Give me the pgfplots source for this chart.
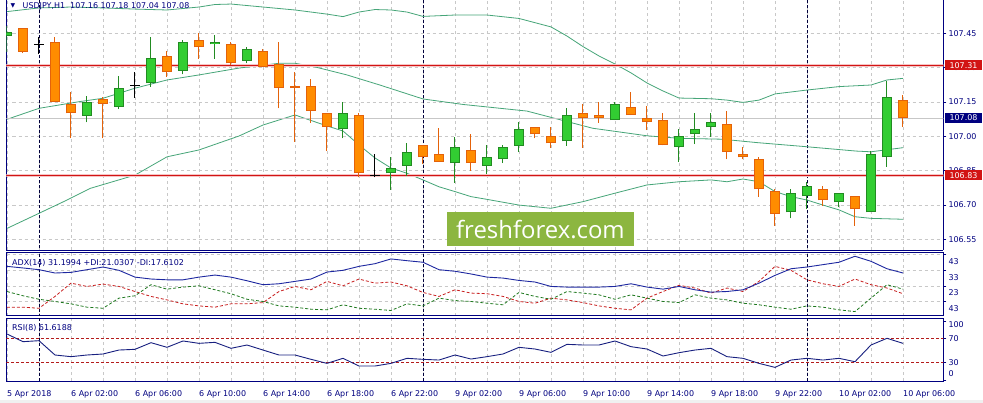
\documentclass[border=0pt]{standalone}
\usepackage{pgfplots}
\pgfplotsset{compat=1.18}
\usepackage{pgfplotstable}
\usepackage{fontspec}
\setmainfont{DejaVu Sans}
\newfontfamily\wmfont{Open Sans}

\definecolor{bullFill}{RGB}{50,205,50}
\definecolor{bullEdge}{RGB}{34,139,34}
\definecolor{bearFill}{RGB}{255,140,0}
\definecolor{bearEdge}{RGB}{228,98,10}
\definecolor{bbColor}{RGB}{70,165,120}
\definecolor{lineRed}{RGB}{210,20,20}
\definecolor{glowRed}{RGB}{246,196,196}
\definecolor{navyT}{RGB}{0,0,128}
\definecolor{sepC}{RGB}{0,0,60}
\definecolor{gridG}{RGB}{200,200,200}
\definecolor{adxBlue}{RGB}{30,40,160}
\definecolor{diRed}{RGB}{200,30,30}
\definecolor{diGreen}{RGB}{30,120,30}
\definecolor{wmG}{RGB}{140,182,64}

% candles: index, open, high, low, close
\pgfplotstableread{
i O H L C
0 107.440 107.482 107.368 107.457
5 107.090 107.177 107.061 107.148
7 107.129 107.263 107.119 107.210
9 107.231 107.435 107.217 107.341
11 107.287 107.421 107.271 107.411
13 107.402 107.443 107.338 107.411
15 107.330 107.392 107.319 107.381
21 107.030 107.151 106.991 107.100
24 106.838 106.910 106.765 106.860
25 106.870 106.972 106.826 106.930
28 106.882 106.995 106.797 106.953
30 106.870 106.962 106.835 106.908
31 106.899 106.962 106.882 106.952
32 106.959 107.064 106.930 107.030
35 106.978 107.122 106.959 107.092
38 107.070 107.148 107.070 107.140
42 106.952 107.030 106.889 107.000
43 107.008 107.100 106.966 107.030
44 107.039 107.100 106.998 107.061
49 106.667 106.768 106.641 106.751
50 106.737 106.801 106.682 106.781
52 106.711 106.751 106.689 106.751
54 106.667 106.937 106.667 106.921
55 106.908 107.242 106.867 107.170
}\bull

\pgfplotstableread{
i O H L C
1 107.472 107.472 107.363 107.370
3 107.411 107.433 107.148 107.148
4 107.140 107.192 106.991 107.100
6 107.163 107.170 106.991 107.140
10 107.351 107.373 107.260 107.280
12 107.420 107.453 107.338 107.389
14 107.403 107.411 107.312 107.319
16 107.373 107.380 107.301 107.301
17 107.315 107.413 107.122 107.210
18 107.218 107.282 106.976 107.210
19 107.218 107.250 107.059 107.110
20 107.100 107.100 106.937 107.039
22 107.092 107.100 106.820 106.838
26 106.962 106.962 106.879 106.908
27 106.922 107.035 106.889 106.889
29 106.939 107.010 106.849 106.882
33 107.039 107.039 106.991 107.008
34 107.001 107.039 106.950 106.969
36 107.100 107.141 106.950 107.078
37 107.092 107.148 107.059 107.078
39 107.129 107.192 107.092 107.092
40 107.078 107.132 107.027 107.061
41 107.070 107.100 106.960 106.960
45 107.052 107.110 106.899 106.930
46 106.921 106.952 106.899 106.908
47 106.899 106.908 106.736 106.768
48 106.761 106.768 106.609 106.659
51 106.768 106.782 106.695 106.720
53 106.737 106.737 106.609 106.681
56 107.160 107.180 107.040 107.080
}\bear

\pgfplotstableread{
i O H L C
2 107.402 107.433 107.360 107.402
8 107.220 107.282 107.169 107.220
23 106.830 106.922 106.820 106.830
}\doji

\pgfplotsset{
  mt4/.style={
    anchor=south west, scale only axis, width=936.8bp,
    xmin=-0.031, xmax=58.52,
    axis line style={draw=navyT, line width=0.8bp},
    xtick={0,4,...,56}, minor x tick num=1,
    xmajorgrids, xminorgrids, ymajorgrids,
    grid style={draw=gridG, dash pattern=on 3bp off 3bp, line width=0.6bp},
    minor grid style={draw=gridG, dash pattern=on 3bp off 3bp, line width=0.6bp},
    tick style={draw=navyT, line width=0.6bp},
    major x tick style={draw=none}, minor tick length=0pt,
    ytick pos=right, yticklabel pos=right, tick align=outside, major tick length=3bp,
    ticklabel style={font=\fontsize{8}{9.6}\selectfont, text=navyT, inner sep=0pt},
    /pgf/number format/assume math mode=true,
    yticklabel style={anchor=base west, xshift=2bp, yshift=-3bp},
    clip mode=individual,
  },
  wick/.style={draw=none, mark=none, forget plot,
    error bars/.cd, y dir=plus, y explicit, error mark=none,
    error bar style={line width=1bp, draw=#1}},
  body/.style 2 args={draw=none, mark=none, forget plot,
    error bars/.cd, y dir=plus, y explicit, error mark=none,
    error bar style={line width=#1, draw=#2}},
  sep/.style={draw=sepC, dash pattern=on 3bp off 2bp, line width=0.9bp, forget plot},
}

\begin{document}
\begin{tikzpicture}
\fill[white] (0bp,0bp) rectangle (983bp,403bp);
\fill[black!6] (0bp,0bp) rectangle (983bp,2.5bp);
\path[use as bounding box] (0bp,0bp) rectangle (983bp,403bp);

% ---------------- price window
\begin{axis}[mt4, at={(6.5bp,153bp)}, height=250bp,
  axis x line*=bottom,
  ymin=106.5026, ymax=107.5957,
  ytick={106.55,106.70,106.85,107.00,107.15,107.30,107.45,107.60},
  xticklabels={},
  yticklabel style={/pgf/number format/fixed, /pgf/number format/fixed zerofill,
    /pgf/number format/precision=2}]

% period separators
\addplot[sep] coordinates {(2,106.4) (2,107.7)};
\addplot[sep] coordinates {(26,106.4) (26,107.7)};
\addplot[sep] coordinates {(50,106.4) (50,107.7)};

% bollinger bands
\addplot[bbColor, line width=0.8bp] coordinates {(0,107.545)(2,107.561)(4,107.565)(6,107.561)(8,107.556)(10,107.552)(12,107.565)(13,107.576)(14,107.578)(16,107.565)(18,107.552)(20,107.534)(21,107.523)(22,107.543)(23,107.554)(24,107.552)(25,107.543)(26,107.524)(28,107.530)(30,107.530)(32,107.515)(34,107.478)(35,107.438)(36,107.392)(37,107.351)(38,107.316)(39,107.277)(40,107.233)(41,107.198)(42,107.167)(44,107.164)(45,107.158)(46,107.148)(47,107.158)(48,107.185)(50,107.202)(52,107.217)(54,107.224)(55,107.246)(56,107.253)};
\addplot[bbColor, line width=0.8bp] coordinates {(0,107.074)(2,107.122)(4.5,107.151)(6,107.166)(8,107.210)(10,107.246)(12,107.268)(14.5,107.298)(17,107.319)(18,107.319)(19.2,107.304)(21.25,107.268)(23.3,107.224)(26,107.163)(28.5,107.139)(32.5,107.110)(36.6,107.035)(40,107.002)(42,106.991)(44.7,106.987)(46.9,106.972)(50,106.954)(53.1,106.935)(54,106.932)(56,106.950)};
\addplot[bbColor, line width=0.8bp] coordinates {(0,106.597)(2,106.663)(3.75,106.721)(5.2,106.772)(8,106.830)(10,106.910)(12,106.940)(14.5,107.001)(16,107.049)(18,107.093)(20,107.045)(21,107.023)(22,106.962)(23,106.905)(24,106.861)(25,106.838)(26,106.809)(27,106.779)(28,106.758)(29,106.736)(30,106.724)(32,106.699)(34,106.685)(36,106.714)(38,106.751)(40,106.787)(42,106.801)(44,106.809)(45,106.801)(46,106.813)(47,106.801)(48,106.758)(49,106.736)(50,106.721)(51,106.699)(52,106.678)(53,106.648)(54,106.641)(56,106.637)};

% levels and bid line
\addplot[draw=glowRed, line width=3bp, forget plot] coordinates {(-1,107.31) (60,107.31)};
\addplot[draw=glowRed, line width=3bp, forget plot] coordinates {(-1,106.83) (60,106.83)};
\addplot[color=lineRed, line width=1bp, forget plot] coordinates {(-1,107.31) (60,107.31)};
\addplot[color=lineRed, line width=1bp, forget plot] coordinates {(-1,106.83) (60,106.83)};
\addplot[draw=black!22, line width=0.8bp, forget plot] coordinates {(-1,107.08) (60,107.08)};

% wicks
\addplot[wick=bullEdge] table[x=i, y=L, y error plus expr=\thisrow{H}-\thisrow{L}] {\bull};
\addplot[wick=bearEdge] table[x=i, y=L, y error plus expr=\thisrow{H}-\thisrow{L}] {\bear};
\addplot[wick=black] table[x=i, y=L, y error plus expr=\thisrow{H}-\thisrow{L}] {\doji};

% bodies
\addplot[body={10bp}{bullEdge}] table[x=i, y=O, y error plus expr=\thisrow{C}-\thisrow{O}] {\bull};
\addplot[body={8bp}{bullFill}] table[x=i, y expr=\thisrow{O}+0.0044,
  y error plus expr={max(\thisrow{C}-\thisrow{O}-0.0088,0)}] {\bull};
\addplot[body={10bp}{bearEdge}] table[x=i, y=C, y error plus expr=\thisrow{O}-\thisrow{C}] {\bear};
\addplot[body={8bp}{bearFill}] table[x=i, y expr=\thisrow{C}+0.0044,
  y error plus expr={max(\thisrow{O}-\thisrow{C}-0.0088,0)}] {\bear};
\addplot[draw=none, mark=none, forget plot, error bars/.cd, x dir=both, x fixed=0.34,
  error mark=none, error bar style={line width=1bp, draw=black}] table[x=i, y=O] {\doji};

% watermark
\node[fill=wmG, text=white, minimum width=187bp, minimum height=34bp, inner sep=0pt,
  font=\wmfont\fontsize{24}{24}\selectfont] at (axis cs:33.34,106.594) {freshforex.com};

% price boxes on the scale
\node[fill=lineRed, text=white, anchor=west, minimum width=37bp, minimum height=10bp,
  inner sep=0pt, xshift=1.5bp, font=\fontsize{8}{9.6}\selectfont]
  at ({rel axis cs:1,0} |- {axis cs:0,107.31}) {107.31};
\node[fill=lineRed, text=white, anchor=west, minimum width=37bp, minimum height=10bp,
  inner sep=0pt, xshift=1.5bp, font=\fontsize{8}{9.6}\selectfont]
  at ({rel axis cs:1,0} |- {axis cs:0,106.83}) {106.83};
\node[fill=navyT, text=white, anchor=west, minimum width=37bp, minimum height=10bp,
  inner sep=0pt, xshift=1.5bp, font=\fontsize{8}{9.6}\selectfont]
  at ({rel axis cs:1,0} |- {axis cs:0,107.08}) {107.08};
\end{axis}

% ---------------- ADX window
\begin{axis}[mt4, at={(6.5bp,87.3bp)}, height=63.4bp,
  ymin=4.2, ymax=44.3, ytick={13,23,33,43}, yticklabels={43,23,33,43},
  yticklabel style={yshift=-7bp}, xticklabels={}]
\addplot[sep] coordinates {(2,0) (2,50)};
\addplot[sep] coordinates {(26,0) (26,50)};
\addplot[sep] coordinates {(50,0) (50,50)};
\addplot[diRed, line width=0.8bp, dash pattern=on 3bp off 2bp] coordinates {(0,9.6)(1,9.6)(2,8.9)(3,16.4)(4,24.8)(5,22.7)(6,24.2)(7,22.7)(8,19.5)(9,16.4)(10,14.2)(11,11.7)(12,10.4)(13,9.6)(14,11.7)(15,11.7)(16,12.5)(17,19.5)(18,22.7)(19,20.6)(20,25.9)(21,23.1)(22,27.4)(23,24.8)(24,25.5)(25,23.1)(26,18.9)(27,16.4)(28,20.6)(29,18.5)(30,18.1)(31,16.4)(32,13.2)(33,12.1)(34,15.3)(35,14.2)(36,12.5)(37,10.4)(38,8.9)(39,7.9)(40,15.3)(41,19.5)(42,23.4)(43,21.7)(44,18.5)(45,21.7)(46,19.5)(47,25.9)(48,35.4)(49,32.9)(50,26.9)(51,24.4)(52,22.7)(53,27.4)(54,23.8)(55,21.7)(56,18.1)};
\addplot[diGreen, line width=0.8bp, dash pattern=on 3bp off 2bp] coordinates {(0,19.5)(1,16.8)(2,14.6)(3,13.2)(4,11.7)(5,9.6)(6,8.9)(7,15.3)(8,16.8)(9,23.8)(10,21.0)(11,22.3)(12,23.1)(13,20.6)(14,18.1)(15,14.6)(16,13.2)(17,10.4)(18,9.6)(19,8.3)(20,7.9)(21,11.1)(22,8.9)(23,8.3)(24,7.5)(25,11.7)(26,10.4)(27,15.3)(28,13.8)(29,13.2)(30,12.1)(31,11.1)(32,18.9)(33,16.4)(34,14.6)(35,19.5)(36,18.5)(37,17.4)(38,14.6)(39,17.4)(40,15.3)(41,13.2)(42,12.5)(43,17.4)(44,15.3)(45,14.2)(46,12.1)(47,11.1)(48,9.6)(49,8.3)(50,10.4)(51,9.6)(52,7.9)(53,6.8)(54,15.3)(55,23.8)(56,21.0)};
\addplot[adxBlue, line width=0.9bp] coordinates {(0,35.4)(1,34.4)(2,33.3)(3,31.2)(4,31.6)(5,33.3)(6,35.0)(7,32.9)(8,28.6)(9,27.4)(10,26.9)(11,26.9)(12,28.6)(13,29.9)(14,28.6)(15,26.3)(16,23.8)(17,24.4)(18,25.9)(19,27.4)(20,31.8)(21,32.9)(22,35.4)(23,37.1)(24,40.1)(25,39.0)(26,38.0)(27,33.3)(28,32.3)(29,30.6)(30,28.6)(31,28.0)(32,26.5)(33,25.5)(34,22.7)(35,22.3)(36,22.3)(37,22.3)(38,22.7)(39,24.4)(40,22.3)(41,21.0)(42,22.7)(43,20.6)(44,19.1)(45,19.5)(46,20.6)(47,24.8)(48,29.7)(49,33.9)(50,35.0)(51,36.5)(52,38.0)(53,41.8)(54,38.6)(55,33.9)(56,31.2)};
\end{axis}

% ---------------- RSI window
\begin{axis}[mt4, at={(6.5bp,22bp)}, height=62.7bp,
  ymin=-1.5, ymax=104.4, ytick={0,30,70,100}, ymajorgrids=false,
  yticklabels={\raisebox{6.8bp}{0},30,70,\raisebox{-4bp}{100}},
  xticklabels={5 Apr 2018,6 Apr 02:00,6 Apr 06:00,6 Apr 10:00,6 Apr 14:00,6 Apr 18:00,6 Apr 22:00,9 Apr 02:00,9 Apr 06:00,9 Apr 10:00,9 Apr 14:00,9 Apr 18:00,9 Apr 22:00,10 Apr 02:00,10 Apr 06:00},
  xticklabel style={anchor=base west, yshift=-12.7bp}]
\addplot[sep] coordinates {(2,-10) (2,110)};
\addplot[sep] coordinates {(26,-10) (26,110)};
\addplot[sep] coordinates {(50,-10) (50,110)};
\addplot[diRed!90!black, line width=0.8bp, dash pattern=on 3bp off 2bp] coordinates {(-1,70) (60,70)};
\addplot[diRed!90!black, line width=0.8bp, dash pattern=on 3bp off 2bp] coordinates {(-1,30) (60,30)};
\addplot[adxBlue!80!black, line width=0.9bp] coordinates {(0,77.9)(1,64.9)(2,66.6)(3,42.4)(4,39.6)(5,42.4)(6,44.1)(7,50.8)(8,52.0)(9,63.2)(10,55.4)(11,66.1)(12,62.1)(13,63.8)(14,53.7)(15,59.3)(16,50.8)(17,42.4)(18,42.4)(19,35.1)(20,28.3)(21,36.8)(22,23.8)(23,23.8)(24,28.3)(25,36.8)(26,35.1)(27,33.9)(28,42.4)(29,35.6)(30,39.6)(31,44.1)(32,55.4)(33,52.5)(34,46.9)(35,60.4)(36,59.3)(37,59.3)(38,66.1)(39,56.5)(40,52.5)(41,40.7)(42,46.3)(43,50.8)(44,53.7)(45,39.6)(46,36.8)(47,28.3)(48,21.5)(49,33.9)(50,36.8)(51,33.9)(52,36.8)(53,31.1)(54,59.3)(55,70.6)(56,62.1)};
\end{axis}

% window captions
\node[anchor=west, text=navyT, font=\fontsize{6}{6}\selectfont, inner sep=0pt] at (10.5bp,397bp) {▼};
\node[anchor=base west, text=navyT, font=\fontsize{8}{9.6}\selectfont, inner sep=0pt] at (22.5bp,394bp) {USDJPY,H1\ \ 107.16 107.18 107.04 107.08};
\node[anchor=base west, text=navyT, font=\fontsize{8}{9.6}\selectfont, inner sep=0pt] at (12bp,137.3bp) {ADX(14) 31.1994 +DI:21.0307 -DI:17.6102};
\node[anchor=base west, text=navyT, font=\fontsize{8}{9.6}\selectfont, inner sep=0pt] at (12bp,72.3bp) {RSI(8) 61.6188};
\end{tikzpicture}
\end{document}
